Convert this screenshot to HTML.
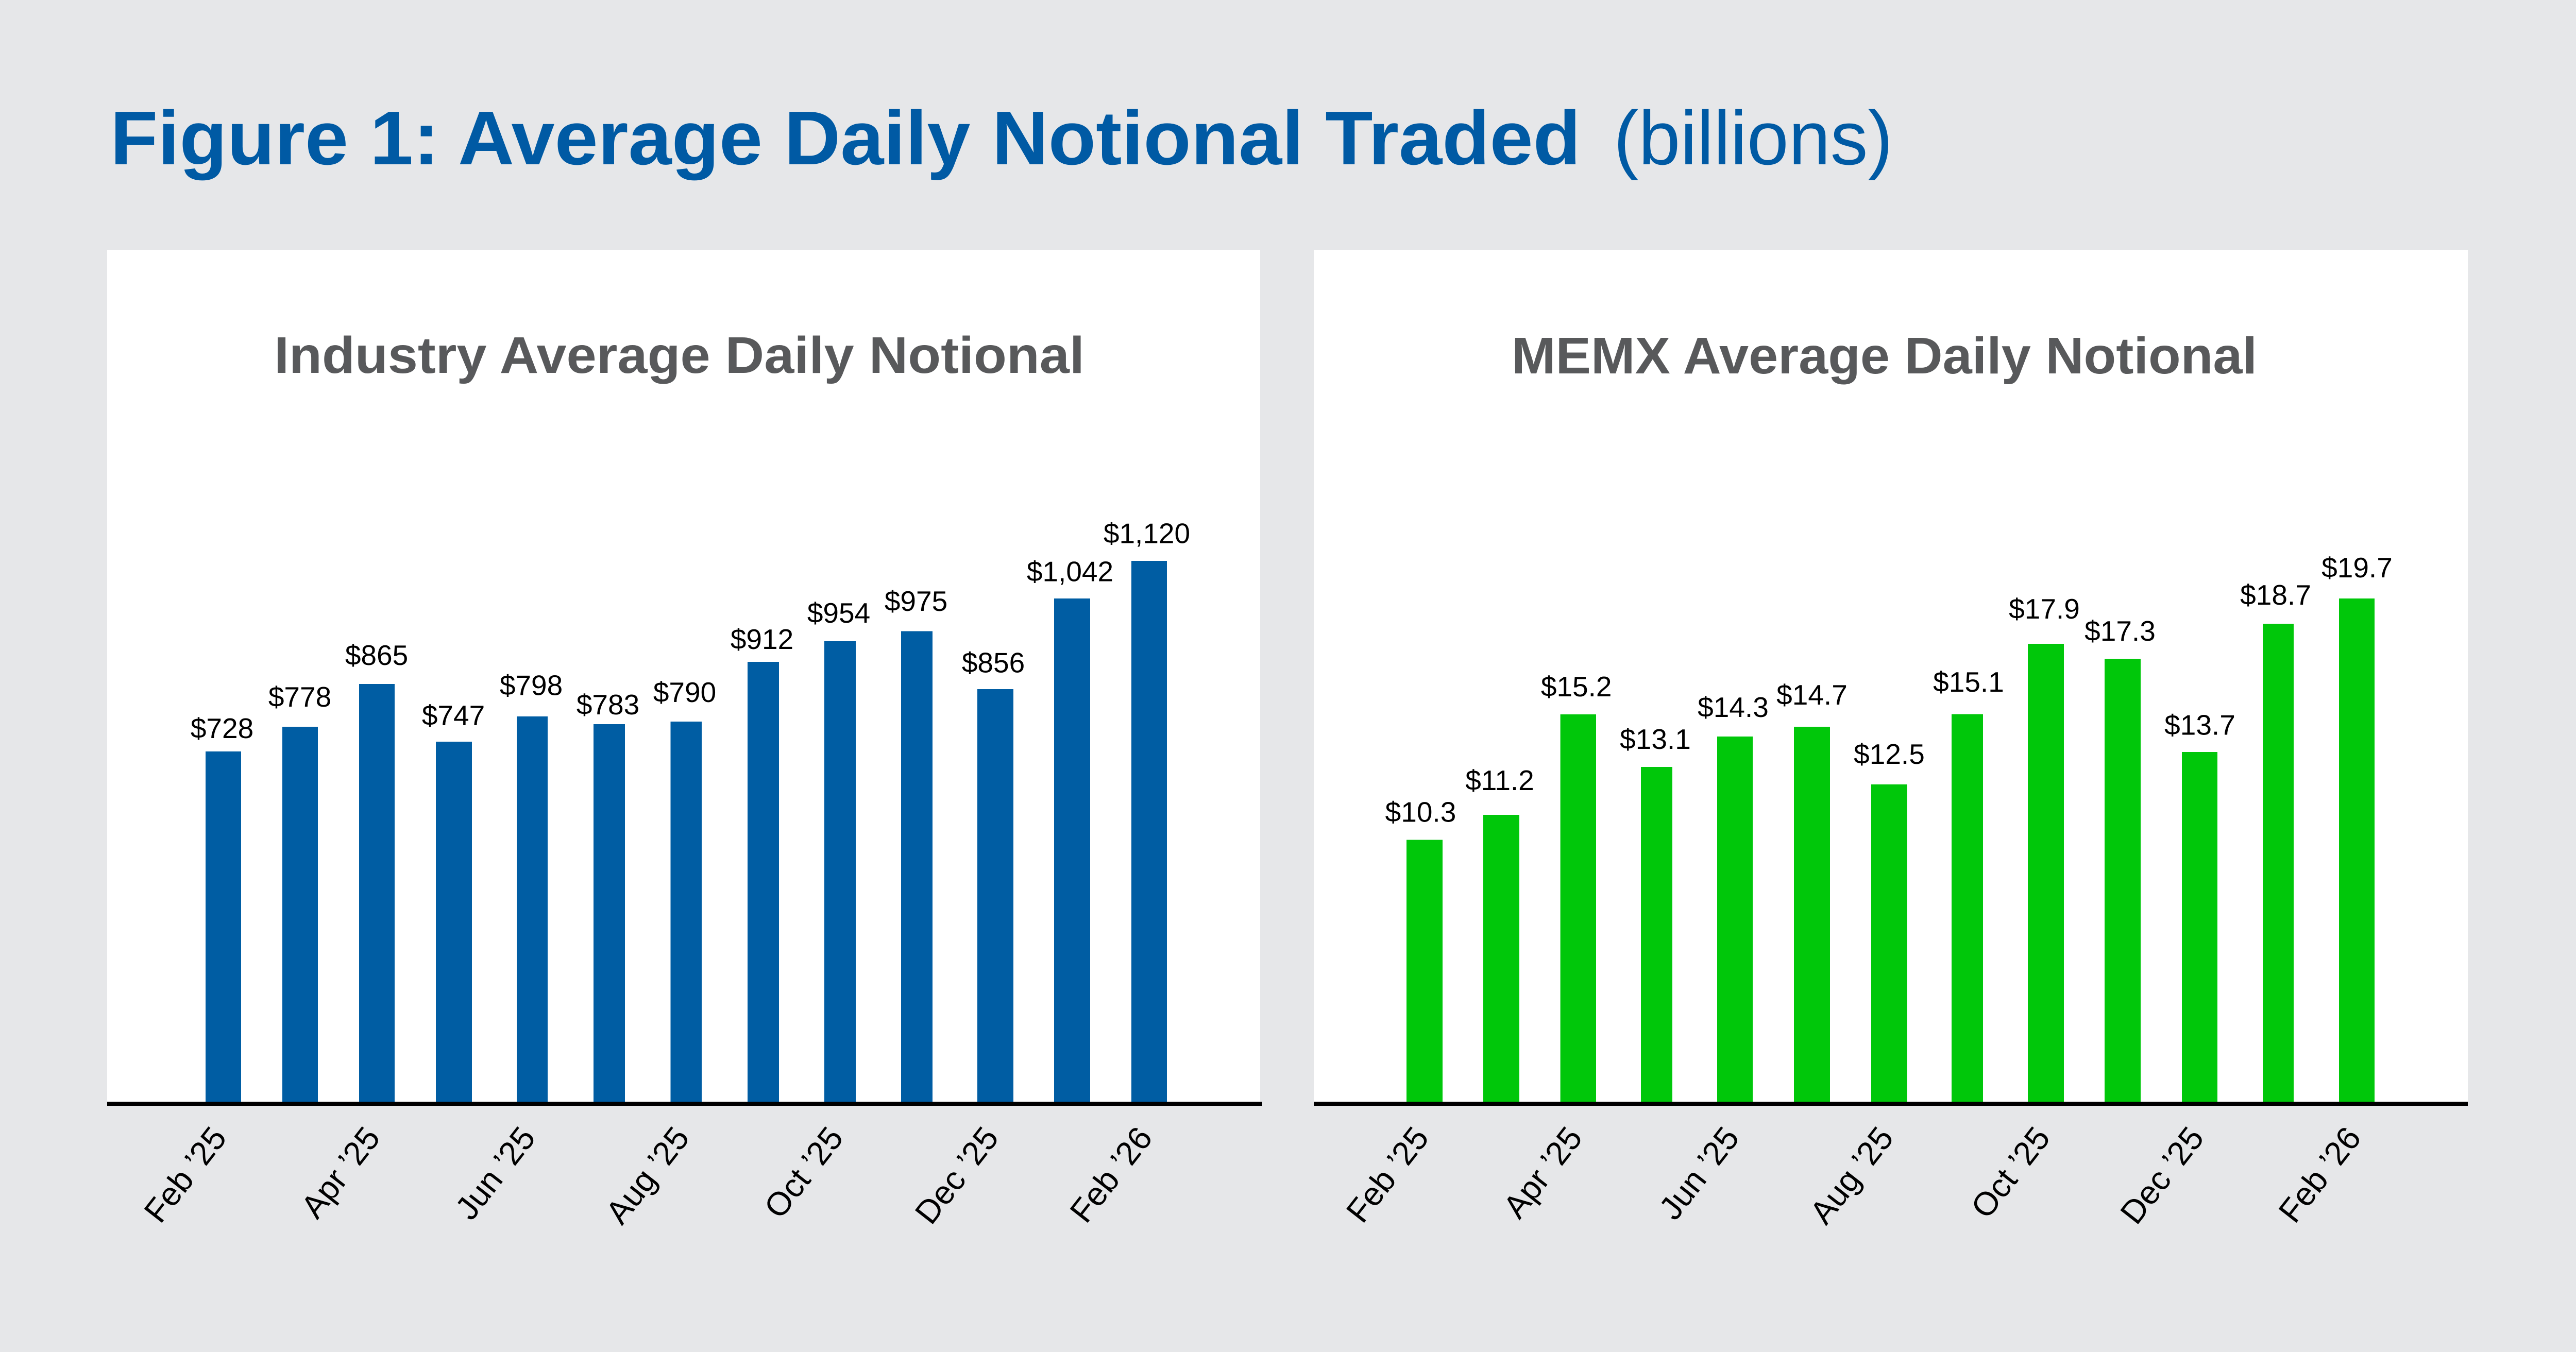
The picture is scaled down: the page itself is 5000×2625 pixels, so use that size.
<!DOCTYPE html>
<html>
<head>
<meta charset="utf-8">
<style>
html,body{margin:0;padding:0;background:#E6E7E9;}
svg{display:block;}
</style>
</head>
<body>
<svg width="5000" height="2625" viewBox="0 0 5000 2625" xmlns="http://www.w3.org/2000/svg">
<rect x="0" y="0" width="5000" height="2625" fill="#E6E7E9"/>

<!-- Title -->
<text x="214" y="319" font-family="Liberation Sans, Arial, sans-serif" font-weight="bold" font-size="148" fill="#005AA4" textLength="2854" lengthAdjust="spacingAndGlyphs">Figure 1: Average Daily Notional Traded</text>
<text x="3132" y="319" font-family="Liberation Sans, Arial, sans-serif" font-size="148" fill="#005AA4" textLength="542" lengthAdjust="spacingAndGlyphs">(billions)</text>

<!-- Panels -->
<rect x="208" y="485" width="2238" height="1654" fill="#FFFFFF"/>
<rect x="2550" y="485" width="2240" height="1654" fill="#FFFFFF"/>

<!-- Subtitles -->
<text x="532" y="724" font-family="Liberation Sans, Arial, sans-serif" font-weight="bold" font-size="100" fill="#58595B" textLength="1573" lengthAdjust="spacingAndGlyphs">Industry Average Daily Notional</text>
<text x="2934" y="725" font-family="Liberation Sans, Arial, sans-serif" font-weight="bold" font-size="100" fill="#58595B" textLength="1447" lengthAdjust="spacingAndGlyphs">MEMX Average Daily Notional</text>

<!-- Left bars -->
<g fill="#005DA3">
<rect x="399" y="1459" width="69" height="680"/>
<rect x="548" y="1411" width="69" height="728"/>
<rect x="697" y="1328" width="69" height="811"/>
<rect x="846" y="1440" width="70" height="699"/>
<rect x="1003" y="1391" width="60" height="748"/>
<rect x="1152" y="1406" width="61" height="733"/>
<rect x="1301.5" y="1401" width="60.5" height="738"/>
<rect x="1451" y="1285" width="61" height="854"/>
<rect x="1600" y="1245" width="61" height="894"/>
<rect x="1749" y="1225.5" width="61" height="913.5"/>
<rect x="1897" y="1338" width="70" height="801"/>
<rect x="2046" y="1162" width="70" height="977"/>
<rect x="2196" y="1089" width="69" height="1050"/>
</g>

<!-- Right bars -->
<g fill="#00C70A">
<rect x="2730" y="1630.6" width="70" height="508.4"/>
<rect x="2879" y="1582" width="70" height="557"/>
<rect x="3028.6" y="1387" width="69.4" height="752"/>
<rect x="3185" y="1489" width="61" height="650"/>
<rect x="3333" y="1430" width="69" height="709"/>
<rect x="3482" y="1411" width="70" height="728"/>
<rect x="3632" y="1523" width="69.5" height="616"/>
<rect x="3788" y="1386.6" width="61" height="752.4"/>
<rect x="3936" y="1250" width="70" height="889"/>
<rect x="4085" y="1279" width="70" height="860"/>
<rect x="4235" y="1460" width="69" height="679"/>
<rect x="4392" y="1211" width="60" height="928"/>
<rect x="4540" y="1162" width="69" height="977"/>
</g>

<!-- Axis lines -->
<rect x="208" y="2139" width="2242" height="8" fill="#000"/>
<rect x="2550" y="2139" width="2240" height="8" fill="#000"/>

<!-- Left value labels -->
<g font-family="Liberation Sans, Arial, sans-serif" font-size="55" fill="#000" text-anchor="middle">
<text x="431" y="1433">$728</text>
<text x="582" y="1372">$778</text>
<text x="731" y="1291">$865</text>
<text x="880" y="1408">$747</text>
<text x="1031" y="1349.5">$798</text>
<text x="1180" y="1387">$783</text>
<text x="1329" y="1363">$790</text>
<text x="1479" y="1260">$912</text>
<text x="1628" y="1209">$954</text>
<text x="1778" y="1186">$975</text>
<text x="1928" y="1305.6">$856</text>
<text x="2077" y="1128.6">$1,042</text>
<text x="2226" y="1054.6">$1,120</text>
</g>

<!-- Right value labels -->
<g font-family="Liberation Sans, Arial, sans-serif" font-size="55" fill="#000" text-anchor="middle">
<text x="2757.5" y="1595.5">$10.3</text>
<text x="2911" y="1534">$11.2</text>
<text x="3059.7" y="1352">$15.2</text>
<text x="3213" y="1454">$13.1</text>
<text x="3364" y="1392">$14.3</text>
<text x="3517" y="1368">$14.7</text>
<text x="3667" y="1483">$12.5</text>
<text x="3821" y="1343">$15.1</text>
<text x="3968" y="1201">$17.9</text>
<text x="4115" y="1244">$17.3</text>
<text x="4270" y="1426.5">$13.7</text>
<text x="4417" y="1174">$18.7</text>
<text x="4575" y="1121">$19.7</text>
</g>

<!-- Left x-axis labels -->
<g font-family="Liberation Sans, Arial, sans-serif" font-size="64" fill="#000" text-anchor="end">
<text transform="translate(442.5,2210) rotate(-52)">Feb ’25</text>
<text transform="translate(740.5,2210) rotate(-52)">Apr ’25</text>
<text transform="translate(1042,2210) rotate(-52)">Jun ’25</text>
<text transform="translate(1340.75,2210) rotate(-52)">Aug ’25</text>
<text transform="translate(1639.5,2210) rotate(-52)">Oct ’25</text>
<text transform="translate(1941,2210) rotate(-52)">Dec ’25</text>
<text transform="translate(2239.5,2210) rotate(-52)">Feb ’26</text>
</g>

<!-- Right x-axis labels -->
<g font-family="Liberation Sans, Arial, sans-serif" font-size="64" fill="#000" text-anchor="end">
<text transform="translate(2776,2210) rotate(-52)">Feb ’25</text>
<text transform="translate(3074,2210) rotate(-52)">Apr ’25</text>
<text transform="translate(3378.5,2210) rotate(-52)">Jun ’25</text>
<text transform="translate(3678,2210) rotate(-52)">Aug ’25</text>
<text transform="translate(3982,2210) rotate(-52)">Oct ’25</text>
<text transform="translate(4280.5,2210) rotate(-52)">Dec ’25</text>
<text transform="translate(4585.5,2210) rotate(-52)">Feb ’26</text>
</g>
</svg>
</body>
</html>
